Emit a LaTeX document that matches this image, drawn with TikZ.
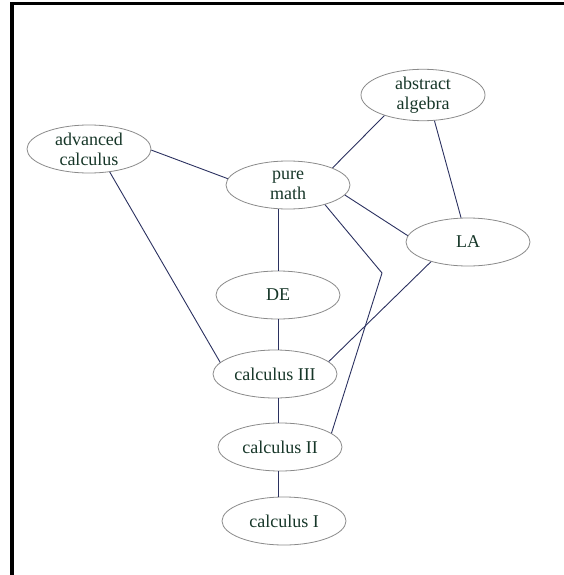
\documentclass[tikz,border=0pt]{standalone}
\usepackage{fontspec}
\setmainfont{Liberation Serif}
\usetikzlibrary{shapes.geometric}
\definecolor{edgegray}{HTML}{8A8A8A}
\definecolor{linknavy}{HTML}{2B3160}
\definecolor{textgreen}{HTML}{163628}
\begin{document}
\begin{tikzpicture}[x=1pt,y=-1pt,
 course/.style={ellipse,draw=edgegray,line width=0.8pt,minimum width=124pt,minimum height=48pt,inner sep=0pt,align=center,text=textgreen,font=\fontsize{18}{20}\selectfont},
 link/.style={draw=linknavy,line width=0.9pt}]
 \useasboundingbox (0,0) rectangle (564,575);
 \draw[line width=3.5pt](11.75,575)--(11.75,3.5)--(564,3.5);
 \node[course] (absalg) at (423,95) {abstract\\algebra};
 \node[course] (advcalc) at (89,149) {advanced\\calculus};
 \node[course] (puremath) at (288,185) {pure\\math};
 \node[course] (la) at (468,242) {LA};
 \node[course] (de) at (278,295) {DE};
 \node[course] (calcIII) at (275,374) {calculus III};
 \node[course] (calcII) at (280,447) {calculus II};
 \node[course] (calcI) at (284,521) {calculus I};
 \coordinate (bend) at (382,273);
 \draw[link](advcalc.359)--(puremath.174);
 \draw[link](advcalc.312)--(calcIII.168);
 \draw[link](puremath.21)--(absalg.208);
 \draw[link](absalg.294)--(la.106);
 \draw[link](puremath.350)--(la.174);
 \draw[link](puremath.332)--(bend)--(calcII.15);
 \draw[link](la.208)--(calcIII.13);
 \draw[link](puremath.south -| de)--(de.north);
 \draw[link](de.south)--(de.south |- calcIII.north);
 \draw[link](calcIII.south -| de)--(calcII.north -| de);
 \draw[link](calcII.south -| de)--(calcI.north -| de);
\end{tikzpicture}
\end{document}
